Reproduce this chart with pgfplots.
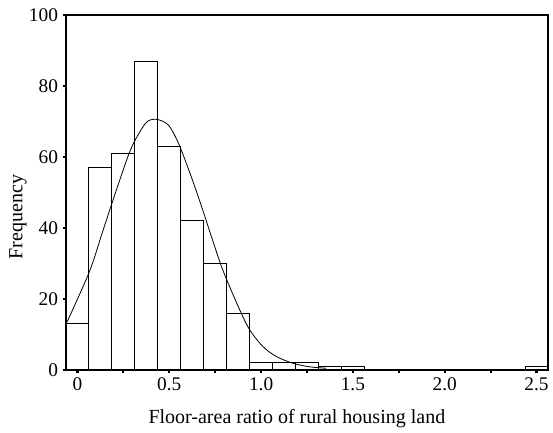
\documentclass[border=0pt]{standalone}
\usepackage{pgfplots}
\pgfplotsset{compat=1.18}
\usepackage{fontspec}
\setmainfont{Liberation Serif}
\newcommand{\tf}{\fontsize{14.5}{17}\selectfont}
\begin{document}
\begin{tikzpicture}
\begin{axis}[
  scale only axis,
  width=361.5pt, height=266.25pt,
  xmin=-0.0625, xmax=2.5625,
  ymin=0, ymax=100,
  axis line style={line width=1pt},
  tick align=outside,
  xtick pos=bottom, ytick pos=left,
  xtick={0,0.5,1.0,1.5,2.0,2.5},
  xticklabels={{\tf 0},{\tf 0.5},{\tf 1.0},{\tf 1.5},{\tf 2.0},{\tf 2.5}},
  minor xtick={0.25,0.75,1.25,1.75,2.25},
  ytick={0,20,40,60,80,100},
  yticklabels={{\tf 0},{\tf 20},{\tf 40},{\tf 60},{\tf 80},{\tf 100}},
  major tick length=2.5pt, minor tick length=2.5pt,
  every tick/.style={line width=1.6pt, black},
  label style={font=\fontsize{15}{18}\selectfont},
  xlabel={Floor-area ratio of rural housing land},
  ylabel={Frequency},
  xlabel style={at={(axis description cs:0.479,-0.152)}, anchor=base},
  ylabel style={at={(axis description cs:-0.0996,0.431)}, anchor=center, rotate=0},
  clip=false,
]
\addplot[ybar interval, fill=white, draw=black, line width=0.8pt] coordinates {
(-0.0625,13) (0.0625,57) (0.1875,61) (0.3125,87) (0.4375,63) (0.5625,42)
(0.6875,30) (0.8125,16) (0.9375,2) (1.0625,2) (1.1875,2) (1.3125,1)
(1.4375,1) (1.5625,0)
};
\addplot[ybar interval, fill=white, draw=black, line width=0.8pt] coordinates {
(2.4375,1) (2.5625,0)
};
\addplot[black, line width=0.6pt, smooth, mark=none] coordinates {
(-0.056,13.6) (0.065,27.7) (0.134,38.5) (0.197,48.4) (0.278,60.6)
(0.324,65.7) (0.378,69.9) (0.432,70.6) (0.495,69.0) (0.549,64.0)
(0.613,55.4) (0.667,47.4) (0.694,43.2) (0.775,30.5) (0.821,24.4)
(0.884,16.9) (0.938,11.3) (1.010,6.6) (1.083,3.8) (1.173,1.9)
(1.264,0.9) (1.354,0.5)
};
\end{axis}
\pgfresetboundingbox
\path ([xshift=-49.5pt,yshift=-46.5pt]current axis.south west) rectangle ([xshift=3.75pt,yshift=11.25pt]current axis.north east);
\end{tikzpicture}
\end{document}
